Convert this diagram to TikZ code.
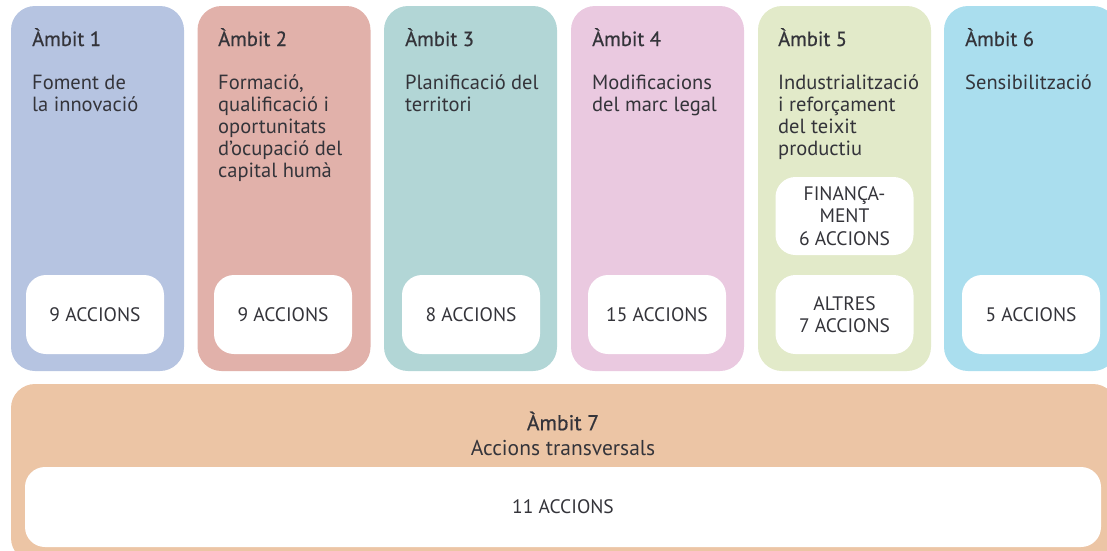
\documentclass[tikz,border=0pt]{standalone}
\usepackage{fontspec}
\setmainfont{PT Sans}
\newfontfamily\semibold[FakeBold=0.7]{PT Sans}
\begin{document}
\definecolor{cA}{RGB}{182,196,225}
\definecolor{cB}{RGB}{225,177,170}
\definecolor{cC}{RGB}{178,214,214}
\definecolor{cD}{RGB}{234,201,224}
\definecolor{cE}{RGB}{226,234,201}
\definecolor{cF}{RGB}{170,222,238}
\definecolor{cG}{RGB}{236,197,165}
\definecolor{ink}{RGB}{52,52,58}
\begin{tikzpicture}[x=1pt,y=-1pt,
  colbox/.style={rounded corners=24pt, minimum width=173pt, minimum height=365pt, inner sep=0pt, draw=none},
  whitebox/.style={fill=white, rounded corners=20pt, minimum width=138pt, inner sep=0pt, draw=none, text=ink, align=center, font=\fontsize{19.5}{22.5}\selectfont},
  titletext/.style={anchor=base west, inner sep=0pt, text=ink, font=\fontsize{20.5}{22}\selectfont\semibold},
  bodytext/.style={anchor=base west, inner sep=0pt, text=ink, font=\fontsize{20.5}{22}\selectfont}
]
\useasboundingbox (0,0) rectangle (1107,550);
\begin{scope}
\clip (0,0) rectangle (1107,550);
% column boxes
\node[colbox, fill=cA] (b1) at (97.5,188.5) {};
\node[colbox, fill=cB] (b2) at (284,188.5) {};
\node[colbox, fill=cC] (b3) at (470.5,188.5) {};
\node[colbox, fill=cD] (b4) at (657.5,188.5) {};
\node[colbox, fill=cE] (b5) at (844.5,188.5) {};
\node[colbox, fill=cF] (b6) at (1030.5,188.5) {};
% bottom box
\node[fill=cG, rounded corners=24pt, minimum width=1106pt, minimum height=178pt, inner sep=0pt] (b7) at (564,473) {};
\end{scope}
% titles
\node[titletext] (t1) at (32,46) {Àmbit 1};
\node[titletext] (t2) at (218,46) {Àmbit 2};
\node[titletext] (t3) at (405,46) {Àmbit 3};
\node[titletext] (t4) at (592,46) {Àmbit 4};
\node[titletext] (t5) at (778,46) {Àmbit 5};
\node[titletext] (t6) at (965,46) {Àmbit 6};
% body texts
\node[bodytext] (d1) at (32,89) {\parbox[t]{150pt}{\raggedright Foment de\\la innovació}};
\node[bodytext] (d2) at (218,89) {\parbox[t]{150pt}{\raggedright Formació,\\qualificació i\\oportunitats\\d’ocupació del\\capital humà}};
\node[bodytext] (d3) at (405,89) {\parbox[t]{150pt}{\raggedright Planificació del\\territori}};
\node[bodytext] (d4) at (592,89) {\parbox[t]{150pt}{\raggedright Modificacions\\del marc legal}};
\node[bodytext] (d5) at (778,89) {\parbox[t]{150pt}{\raggedright Industrialització\\i reforçament\\del teixit\\productiu}};
\node[bodytext] (d6) at (965,89) {\parbox[t]{150pt}{\raggedright Sensibilització}};
% white boxes
\node[whitebox, minimum height=79pt] (w1) at (95,314.5) {9 ACCIONS};
\node[whitebox, minimum height=79pt] (w2) at (283,314.5) {9 ACCIONS};
\node[whitebox, minimum height=79pt] (w3) at (471,314.5) {8 ACCIONS};
\node[whitebox, minimum height=79pt] (w4) at (657,314.5) {15 ACCIONS};
\node[whitebox, minimum height=78pt] (w5a) at (844.5,216) {FINANÇA-\\MENT\\6 ACCIONS};
\node[whitebox, minimum height=79pt] (w5b) at (844.5,314.5) {ALTRES\\7 ACCIONS};
\node[whitebox, minimum height=79pt] (w6) at (1031,314.5) {5 ACCIONS};
% bottom
\node[inner sep=0pt, text=ink, font=\fontsize{21.5}{22}\selectfont\semibold] (t7) at (563,421) {Àmbit 7};
\node[inner sep=0pt, text=ink, font=\fontsize{21.5}{22}\selectfont] (d7) at (563,448) {Accions transversals};
\node[whitebox, minimum width=1076pt, minimum height=80pt] (w7) at (563,507) {11 ACCIONS};
\end{tikzpicture}
\end{document}
